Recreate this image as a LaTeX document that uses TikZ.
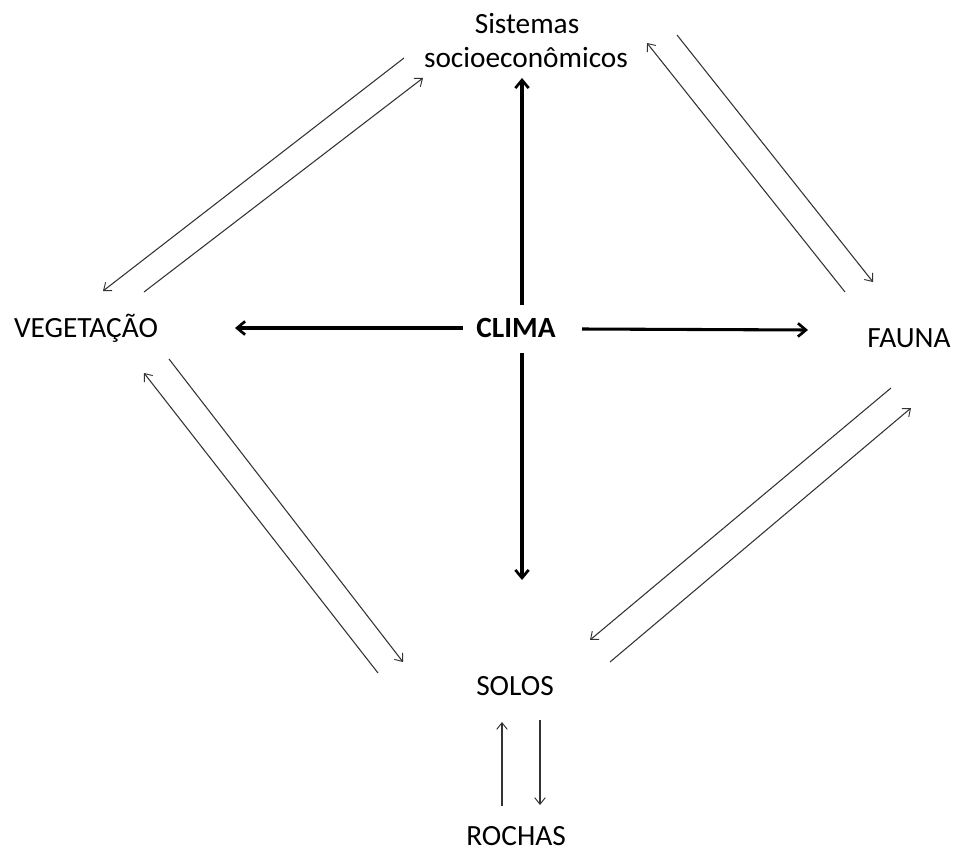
\documentclass[tikz,border=0pt]{standalone}
\usepackage{fontspec}
\setmainfont{Carlito}
\usetikzlibrary{arrows.meta}
\begin{document}
\begin{tikzpicture}[x=0.75pt,y=-0.75pt,
  lbl/.style={anchor=base,inner sep=0pt,font=\fontsize{22}{26}\selectfont},
  thin/.style={line width=0.8pt,draw=black!80,-{Straight Barb[length=5pt,width=8pt,line width=0.7pt]}},
  thick/.style={line width=2.3pt,-{Straight Barb[length=6pt,width=10pt,line width=2pt]}}]
\useasboundingbox (0,0) rectangle (954,853);

% labels
\node[lbl] (sis1) at (527,33) {Sistemas};
\node[lbl] (sis2) at (526,67) {socioeconômicos};
\node[lbl] (veg) at (86,337) {VEGETAÇÃO};
\node[lbl,font=\fontsize{22}{26}\selectfont\bfseries] (clima) at (516,337) {CLIMA};
\node[lbl] (fauna) at (909,347) {FAUNA};
\node[lbl] (solos) at (515,695) {SOLOS};
\node[lbl] (rochas) at (516,845) {ROCHAS};

% end points of the connectors
\coordinate (cU0) at (522,305);  \coordinate (cU1) at (522,78);
\coordinate (cD0) at (522,353);  \coordinate (cD1) at (522,580);
\coordinate (cL0) at (463,328);  \coordinate (cL1) at (235,328);
\coordinate (cR0) at (582,329);  \coordinate (cR1) at (808,330);

\coordinate (sv0) at (404,58);   \coordinate (sv1) at (103,291);
\coordinate (vs0) at (144,292);  \coordinate (vs1) at (423,78);

\coordinate (fs0) at (845,292);  \coordinate (fs1) at (647,43);
\coordinate (sf0) at (677,35);   \coordinate (sf1) at (873,282);

\coordinate (of0) at (891,388);  \coordinate (of1) at (590,640);
\coordinate (fo0) at (610,662);  \coordinate (fo1) at (911,408);

\coordinate (ov0) at (378,673);  \coordinate (ov1) at (144,373);
\coordinate (vo0) at (169,359);  \coordinate (vo1) at (403,662);

\coordinate (ro0) at (502,806);  \coordinate (ro1) at (502,722);
\coordinate (or0) at (540,720);  \coordinate (or1) at (540,805);

% climate drives the four neighbours
\draw[thick] (cU0) -- (cU1);
\draw[thick] (cD0) -- (cD1);
\draw[thick] (cL0) -- (cL1);
\draw[thick] (cR0) -- (cR1);

% two-way exchanges
\draw[thin] (sv0) -- (sv1);
\draw[thin] (vs0) -- (vs1);
\draw[thin] (fs0) -- (fs1);
\draw[thin] (sf0) -- (sf1);
\draw[thin] (of0) -- (of1);
\draw[thin] (fo0) -- (fo1);
\draw[thin] (ov0) -- (ov1);
\draw[thin] (vo0) -- (vo1);
\draw[thin] (ro0) -- (ro1);
\draw[thin] (or0) -- (or1);
\end{tikzpicture}
\end{document}
